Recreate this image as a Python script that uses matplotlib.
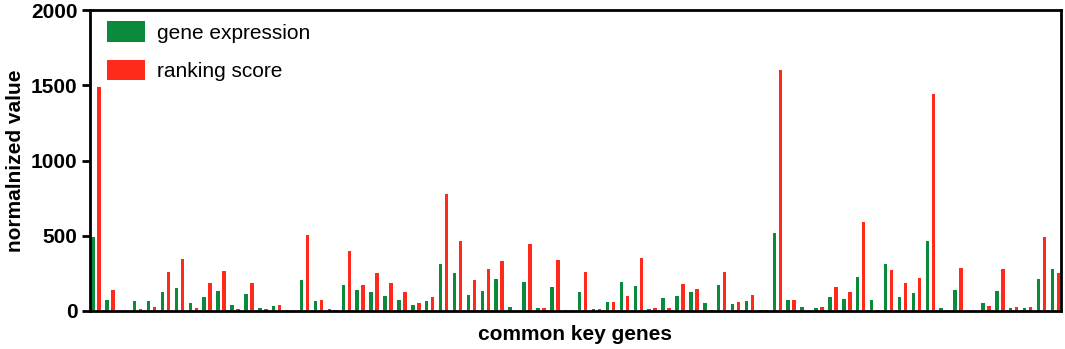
import matplotlib
matplotlib.use("Agg")
import matplotlib.pyplot as plt
import numpy as np

plt.rcParams["font.family"] = ["Liberation Sans", "DejaVu Sans"]

# values, one pair per gene
gene_expression = [
    490, 75, 0, 64, 69, 124, 155, 51, 95, 130,
    38, 115, 22, 31, 9, 206, 66, 15, 173, 139,
    124, 100, 73, 38, 66, 310, 254, 104, 133, 212,
    27, 190, 18, 157, 7, 126, 15, 60, 195, 168,
    15, 86, 97, 124, 51, 173, 49, 64, 7, 518,
    73, 29, 20, 93, 80, 228, 73, 310, 95, 117,
    463, 20, 137, 0, 53, 133, 22, 18, 212, 277,
]
ranking_score = [
    1490, 140, 0, 11, 24, 259, 348, 20, 184, 265,
    13, 186, 15, 42, 0, 505, 73, 7, 398, 175,
    254, 184, 124, 53, 91, 780, 465, 206, 281, 334,
    0, 447, 20, 336, 7, 259, 15, 60, 100, 352,
    18, 22, 181, 148, 7, 257, 58, 104, 7, 1605,
    73, 0, 29, 161, 128, 589, 7, 272, 184, 221,
    1440, 7, 288, 0, 31, 277, 27, 27, 491, 254,
]

GREEN = "#0B8A3C"
RED = "#FF2A1A"

x = np.arange(len(gene_expression))

fig = plt.figure(figsize=(10.65, 3.49), dpi=100)
ax = fig.add_axes([0.0845, 0.109, 0.9117, 0.862])

w = 0.25
ax.bar(x - 0.215, gene_expression, width=w, color=GREEN, label="gene expression")
ax.bar(x + 0.215, ranking_score, width=w, color=RED, label="ranking score")

ax.set_xlim(-0.43, 69.4)
ax.set_ylim(0, 2000)
ax.set_yticks([0, 500, 1000, 1500, 2000])
ax.set_xticks([])
ax.tick_params(axis="y", length=6, width=2, labelsize=15, pad=3)
for lbl in ax.get_yticklabels():
    lbl.set_fontweight("bold")
for sp in ax.spines.values():
    sp.set_linewidth(2)
    sp.set_color("black")

ax.set_ylabel("normalnized value", fontsize=15, fontweight="bold", labelpad=4)
ax.set_xlabel("common key genes", fontsize=15, fontweight="bold", labelpad=10)

ax.legend(loc="upper left", bbox_to_anchor=(0.009, 0.99), frameon=False,
          fontsize=15, handlelength=1.8, handleheight=1.15, labelspacing=0.81,
          handletextpad=0.62, borderaxespad=0.0)

fig.savefig("out.png", dpi=100)
